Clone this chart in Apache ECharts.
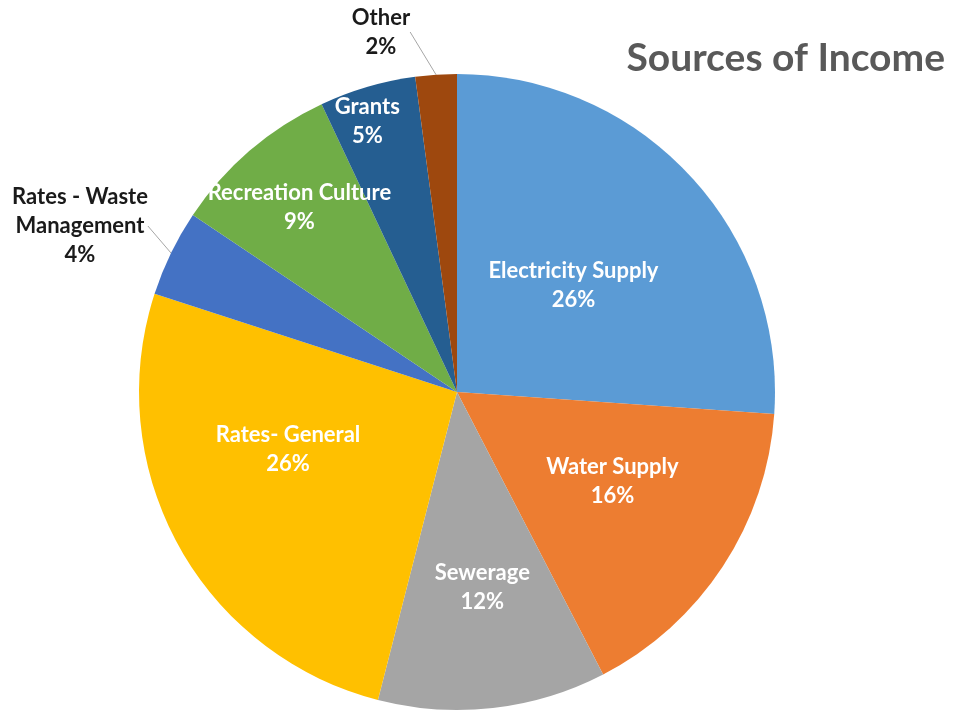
<!DOCTYPE html>
<html>
<head>
<meta charset="utf-8">
<script src="https://cdn.jsdelivr.net/npm/echarts@6/dist/echarts.min.js"></script>
<style>
  html, body { margin: 0; padding: 0; background: #fff; }
  #chart { width: 968px; height: 711px; }
</style>
</head>
<body>
<div id="chart"></div>
<script>
// slices, clockwise from 12 o'clock
var categories = ['Electricity Supply', 'Water Supply', 'Sewerage', 'Rates- General',
  'Rates - Waste\nManagement', 'Recreation Culture', 'Grants', 'Other'];
var shares = [26.1, 16.3, 11.6, 26.0, 4.4, 8.6, 4.9, 2.1];
var colors = ['#5b9bd5', '#ed7d31', '#a5a5a5', '#ffc000', '#4472c4', '#70ad47', '#255e91', '#9e480e'];

// label nudges (Excel places the labels a bit differently from ECharts)
var labelOffsets = [[-2, 4], [20, 0], [7, 34], [-27, -21], [0, 0], [-52, -62], [-44, -115], [0, 0]];
// the two small slices get outside labels
var outsideLabelAt = { 4: [80, 226], 7: [381, 32] };

var chart = echarts.init(document.getElementById('chart'));

var data = categories.map(function (name, i) {
  var item = { value: shares[i], name: name, itemStyle: { color: colors[i] } };
  if (outsideLabelAt[i]) {
    item.label = { position: 'outside', color: '#1a1a1a', align: 'center' };
  } else {
    item.label = { offset: labelOffsets[i] };
    item.labelLine = { show: false };
  }
  return item;
});

chart.setOption({
  animation: false,
  title: {
    text: 'Sources of Income',
    right: 18,
    top: 34,
    textStyle: { fontFamily: 'Lato', fontWeight: 'bold', fontSize: 39, color: '#595959' }
  },
  series: [{
    type: 'pie',
    center: [457, 392],
    radius: 318,
    startAngle: 90,
    clockwise: true,
    avoidLabelOverlap: false,
    data: data,
    label: {
      position: 'inside',
      fontFamily: 'Lato',
      fontWeight: 'bold',
      fontSize: 22,
      lineHeight: 29,
      color: '#fff',
      formatter: function (p) { return p.name + '\n' + Math.round(p.percent) + '%'; }
    },
    labelLine: {
      show: true,
      length: 8,
      length2: 0,
      lineStyle: { color: '#a6a6a6', width: 1 }
    },
    labelLayout: function (params) {
      var at = outsideLabelAt[params.dataIndex];
      if (at) {
        return { x: at[0], y: at[1], align: 'center', verticalAlign: 'middle', hideOverlap: false };
      }
      return { hideOverlap: false };
    },
    itemStyle: { borderWidth: 0 }
  }]
});
</script>
</body>
</html>
